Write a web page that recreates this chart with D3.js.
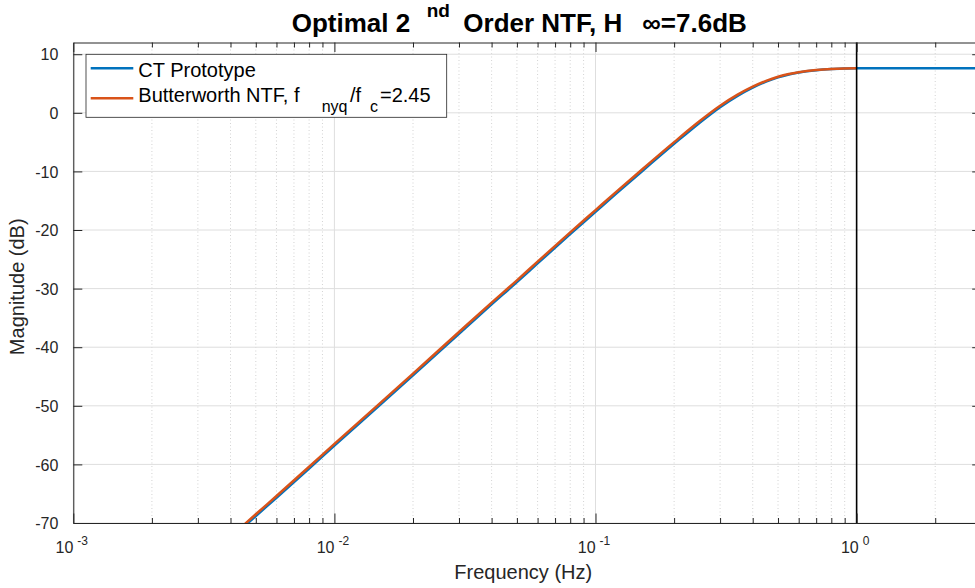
<!DOCTYPE html>
<html>
<head>
<meta charset="utf-8">
<script src="https://cdn.jsdelivr.net/npm/d3@7"></script>
<style>
  html, body { margin: 0; padding: 0; background: #fff; overflow: hidden; }
  svg { display: block; font-family: "Liberation Sans", Arial, Helvetica, sans-serif; }
</style>
</head>
<body>
<svg id="chart" width="975" height="588"></svg>
<script>
// ---------------- data ----------------
const ctFreq = [0.004, 0.005, 0.006, 0.008, 0.01, 0.015, 0.02, 0.03, 0.04, 0.05, 0.06, 0.08,
                0.1, 0.12, 0.15, 0.2, 0.25, 0.3, 0.35, 0.4, 0.45, 0.5, 0.55, 0.6, 0.7, 0.8, 0.9, 1.0,
                1.2, 1.5, 2.0, 3.0];
const ctMag  = [-72.7, -68.8, -65.7, -60.7, -56.8, -49.8, -44.8, -37.7, -32.7, -28.9, -25.7, -20.7,
                -16.9, -13.8, -10.05, -5.3, -1.72, 0.97, 2.9, 4.3, 5.32, 6.05, 6.54, 6.87, 7.26, 7.46, 7.55, 7.6,
                7.6, 7.6, 7.6, 7.6];
const ntfFreq = [0.004, 0.005, 0.006, 0.008, 0.01, 0.015, 0.02, 0.03, 0.04, 0.05, 0.06, 0.08,
                 0.1, 0.12, 0.15, 0.2, 0.25, 0.3, 0.35, 0.4, 0.45, 0.5, 0.55, 0.6, 0.7, 0.8, 0.9, 1.0];
const ntfMag  = [-72.4, -68.5, -65.4, -60.4, -56.5, -49.5, -44.5, -37.4, -32.4, -28.6, -25.4, -20.4,
                 -16.6, -13.5, -9.75, -5.0, -1.45, 1.2, 3.1, 4.45, 5.45, 6.15, 6.62, 6.93, 7.3, 7.48, 7.56, 7.6];
const xMajorTicks = [0.001, 0.01, 0.1, 1];
const xMajorLabels = ["-3", "-2", "-1", "0"];
const xMinorTicks = [0.002,0.003,0.004,0.005,0.006,0.007,0.008,0.009,
                     0.02,0.03,0.04,0.05,0.06,0.07,0.08,0.09,
                     0.2,0.3,0.4,0.5,0.6,0.7,0.8,0.9, 2, 3];
const yTicks = [-70, -60, -50, -40, -30, -20, -10, 0, 10];
const seriesNames = ["CT Prototype", "Butterworth NTF"];
const seriesColors = ["#0072BD", "#D95319"];
const nyquistLine = 1;

// ---------------- layout ----------------
const L = 73.3, R = 981.2, T = 42.5, B = 523;
const axisColor = "#262626";

const svg = d3.select("#chart");
const x = d3.scaleLog().domain([0.001, 3]).range([L, R]);
const y = d3.scaleLinear().domain([-70, 12]).range([B, T]);

// grid
const grid = svg.append("g");
grid.selectAll("line.minor").data(xMinorTicks).join("line")
  .attr("x1", d => x(d)).attr("x2", d => x(d)).attr("y1", T).attr("y2", B)
  .attr("stroke", "#c8c8c8").attr("stroke-width", 0.8).attr("stroke-dasharray", "1 2.5");
grid.selectAll("line.xmaj").data(xMajorTicks).join("line")
  .attr("x1", d => x(d)).attr("x2", d => x(d)).attr("y1", T).attr("y2", B)
  .attr("stroke", "#dedede").attr("stroke-width", 1);
grid.selectAll("line.ymaj").data(yTicks).join("line")
  .attr("x1", L).attr("x2", R).attr("y1", d => y(d)).attr("y2", d => y(d))
  .attr("stroke", "#dedede").attr("stroke-width", 1);

// series
svg.append("clipPath").attr("id", "plotclip").append("rect")
  .attr("x", L).attr("y", T).attr("width", R - L).attr("height", B - T);
const plot = svg.append("g").attr("clip-path", "url(#plotclip)");
const line = d3.line().x(d => x(d[0])).y(d => y(d[1])).curve(d3.curveMonotoneX);
plot.append("path").datum(d3.zip(ctFreq, ctMag)).attr("d", line)
  .attr("fill", "none").attr("stroke", seriesColors[0]).attr("stroke-width", 2.5);
plot.append("path").datum(d3.zip(ntfFreq, ntfMag)).attr("d", line)
  .attr("fill", "none").attr("stroke", seriesColors[1]).attr("stroke-width", 2.5);

// vertical line at Nyquist
svg.append("line").attr("x1", x(nyquistLine)).attr("x2", x(nyquistLine))
  .attr("y1", T).attr("y2", B).attr("stroke", "#000").attr("stroke-width", 1.6);

// axes
function styleAxis(g) {
  g.select(".domain").attr("stroke", axisColor).attr("stroke-width", 1);
  g.selectAll(".tick line").attr("stroke", axisColor).attr("stroke-width", 1);
}
// bottom
const gxB = svg.append("g").attr("transform", `translate(0,${B})`)
  .call(d3.axisBottom(x).tickValues(xMajorTicks).tickSize(-9.5).tickSizeOuter(0).tickFormat(() => ""));
styleAxis(gxB);
gxB.selectAll(".tick text").each(function(d, i) {
  const t = d3.select(this);
  t.text("").attr("y", 30).attr("dy", null).attr("x", -2)
    .attr("fill", axisColor).attr("font-size", 16).attr("text-anchor", "middle");
  t.append("tspan").text("10");
  t.append("tspan").attr("dx", 4).attr("dy", -8).attr("font-size", 12).text(xMajorLabels[i]);
});
svg.append("g").attr("transform", `translate(0,${B})`)
  .call(d3.axisBottom(x).tickValues(xMinorTicks).tickSize(-5).tickSizeOuter(0).tickFormat(() => ""))
  .call(g => { g.select(".domain").remove(); g.selectAll(".tick line").attr("stroke", axisColor); });
// top
const gxT = svg.append("g").attr("transform", `translate(0,${T})`)
  .call(d3.axisTop(x).tickValues(xMajorTicks).tickSize(-9.5).tickSizeOuter(0).tickFormat(() => ""));
styleAxis(gxT);
svg.append("g").attr("transform", `translate(0,${T})`)
  .call(d3.axisTop(x).tickValues(xMinorTicks).tickSize(-5).tickSizeOuter(0).tickFormat(() => ""))
  .call(g => { g.select(".domain").remove(); g.selectAll(".tick line").attr("stroke", axisColor); });
// left
const gyL = svg.append("g").attr("transform", `translate(${L},0)`)
  .call(d3.axisLeft(y).tickValues(yTicks).tickSize(-9).tickSizeOuter(0).tickPadding(15).tickFormat(d => String(d)));
styleAxis(gyL);
gyL.selectAll(".tick text").attr("fill", axisColor).attr("font-size", 16)
  .attr("font-family", "'Liberation Sans', Arial, sans-serif").attr("dy", "0.35em");
// right
const gyR = svg.append("g").attr("transform", `translate(${R},0)`)
  .call(d3.axisRight(y).tickValues(yTicks).tickSize(-9).tickSizeOuter(0).tickFormat(() => ""));
styleAxis(gyR);

// axis labels
svg.append("text").attr("x", (L + R) / 2 - 4).attr("y", 579).attr("text-anchor", "middle")
  .attr("font-size", 20).attr("fill", axisColor).text("Frequency (Hz)");
svg.append("text").attr("transform", `translate(24,${(T + B) / 2 + 4}) rotate(-90)`)
  .attr("text-anchor", "middle").attr("font-size", 20).attr("fill", axisColor).text("Magnitude (dB)");

// title
const title = svg.append("g").attr("font-weight", "bold").attr("fill", "#000");
title.append("text").attr("x", 291.7).attr("y", 32).attr("font-size", 26).text("Optimal 2");
title.append("text").attr("x", 426.7).attr("y", 17).attr("font-size", 19).text("nd");
title.append("text").attr("x", 463.3).attr("y", 32).attr("font-size", 26).text("Order NTF, H");
title.append("text").attr("x", 642.3).attr("y", 32).attr("font-size", 26).text("∞=7.6dB");

// legend
const lg = svg.append("g");
lg.append("rect").attr("x", 86).attr("y", 54.3).attr("width", 360.7).attr("height", 63)
  .attr("fill", "#fff").attr("stroke", axisColor).attr("stroke-width", 0.8);
const lgY = [68.3, 98.3];
lg.selectAll("line.lg").data(seriesColors).join("line")
  .attr("x1", 90.7).attr("x2", 133.3).attr("y1", (d, i) => lgY[i]).attr("y2", (d, i) => lgY[i])
  .attr("stroke", d => d).attr("stroke-width", 2.5);
lg.append("text").attr("x", 138.3).attr("y", 77.3).attr("font-size", 20).attr("fill", "#000").text(seriesNames[0]);
lg.append("text").attr("x", 138.3).attr("y", 101.7).attr("font-size", 20).attr("fill", "#000").text(seriesNames[1] + ", f");
lg.append("text").attr("x", 321.7).attr("y", 111.7).attr("font-size", 16).attr("fill", "#000").text("nyq");
lg.append("text").attr("x", 350).attr("y", 101.7).attr("font-size", 20).attr("fill", "#000").text("/f");
lg.append("text").attr("x", 370).attr("y", 111.7).attr("font-size", 16).attr("fill", "#000").text("c");
lg.append("text").attr("x", 380).attr("y", 101.7).attr("font-size", 20).attr("fill", "#000").text("=2.45");
</script>
</body>
</html>
